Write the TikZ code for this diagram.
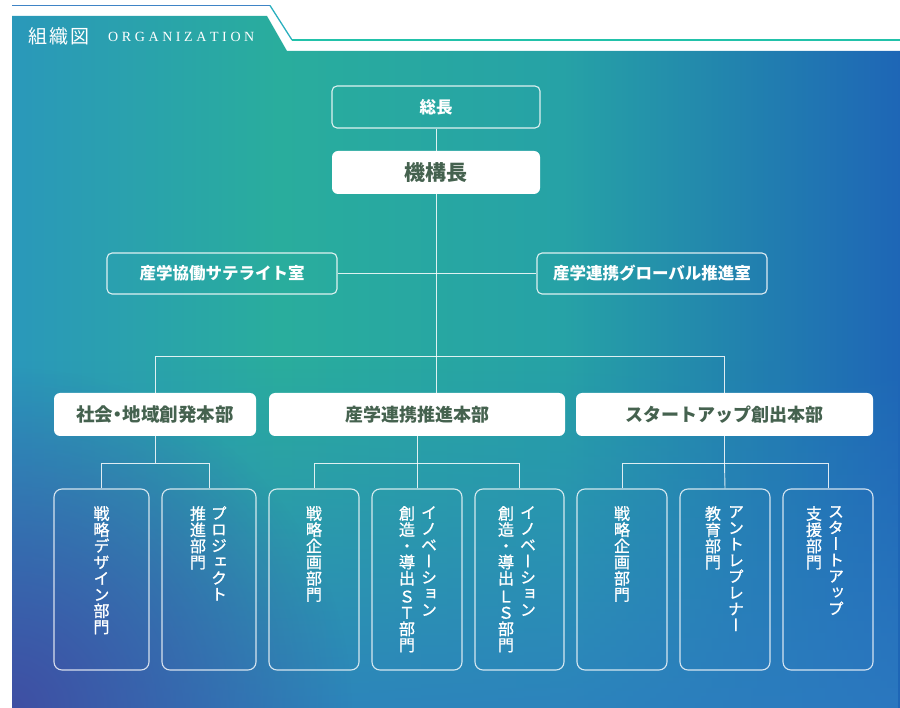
\documentclass[tikz,border=0pt]{standalone}
\usepackage{fontspec}
\usetikzlibrary{fadings}
\setmainfont{Liberation Serif}
\newfontfamily\jp{Noto Sans CJK JP}
\newfontfamily\jpv[RawFeature=+vert, FakeBold=1]{Noto Sans CJK JP}
\definecolor{bgL}{HTML}{2A98BA}
\definecolor{bgM}{HTML}{29AD9D}
\definecolor{bgMb}{HTML}{26A2A6}
\definecolor{bgR}{HTML}{1E66B6}
\definecolor{purp}{HTML}{3F4FA3}
\definecolor{lowblue}{HTML}{2E7CC2}
\definecolor{dgreen}{HTML}{45624F}
\definecolor{lineA}{HTML}{3F84C6}
\definecolor{lineB}{HTML}{2AAFBE}
\definecolor{lineC}{HTML}{22C2AA}
\pgfdeclarehorizontalshading{bgh}{100bp}{color(0bp)=(bgL); color(25bp)=(bgL); color(40bp)=(bgM); color(56bp)=(bgMb); color(75bp)=(bgR); color(100bp)=(bgR)}
\tikzfading[name=radfade, inner color=transparent!0, outer color=transparent!100]
\tikzfading[name=upfade, top color=transparent!100, bottom color=transparent!20]
\def\lsp{\kern3.6pt}
\begin{document}
\begin{tikzpicture}[x=1pt,y=-1pt,
  conn/.style={draw=white, draw opacity=0.85, line width=0.9pt},
  outbox/.style={draw=white, draw opacity=0.85, line width=1.1pt, rounded corners=5pt, inner sep=0, text=white, font=\jp\bfseries\fontsize{16.5}{18}\selectfont},
  solidbox/.style={fill=white, rounded corners=6pt, inner sep=0, text=dgreen, font=\jp\bfseries\fontsize{18}{20}\selectfont},
  subbox/.style={draw=white, draw opacity=0.8, line width=1.1pt, rounded corners=8pt, inner sep=0, minimum height=181pt},
  vcol/.style={anchor=north, inner sep=0, align=center, text=white, font=\jpv\fontsize{16}{16.2}\selectfont}]
\useasboundingbox (0,0) rectangle (900,708);
% background
\shade[shading=bgh] (12,16) -- (267,16) -- (287,51) -- (900,51) -- (900,708) -- (12,708) -- cycle;
\begin{scope}
\clip (12,16) -- (267,16) -- (287,51) -- (900,51) -- (900,708) -- (12,708) -- cycle;
\fill[lowblue, path fading=upfade] (12,360) rectangle (900,708);
\fill[purp, path fading=radfade] (12,708) circle [radius=340pt];
\end{scope}
% header lines
\draw[lineA, line width=1.3pt] (12,5.5) -- (270,5.5);
\draw[lineB, line width=1.3pt] (270,5.5) -- (292,40);
\draw[lineC, line width=1.3pt] (292,40) -- (900,40);
\node[text=white, font=\jp\fontsize{19}{20}\selectfont, anchor=west, inner sep=0] (ttl) at (28,36) {組\kern2pt 織\kern2pt 図};
\node[text=white, font=\fontsize{14}{14}\selectfont, anchor=west, inner sep=0] (org) at (108,36.5) {O\lsp R\lsp G\lsp A\lsp N\lsp I\lsp Z\lsp A\lsp T\lsp I\lsp O\lsp N};
% top nodes
\node[outbox, minimum width=208pt, minimum height=42pt] (sou) at (436,107) {総長};
\node[solidbox, minimum width=208pt, minimum height=43pt, font=\jp\bfseries\fontsize{21}{24}\selectfont] (kiko) at (436,172.5) {機構長};
\node[outbox, minimum width=230pt, minimum height=41pt] (sat) at (222,273.5) {産学協働サテライト室};
\node[outbox, minimum width=230pt, minimum height=41pt] (glo) at (652,273.5) {産学連携グローバル推進室};
% headquarters
\node[solidbox, minimum width=202pt, minimum height=43pt, font=\jp\bfseries\fontsize{18.5}{20}\selectfont] (h1) at (155,414.5) {社会\kern-4.5pt・\kern-4.5pt 地域創発本部};
\node[solidbox, minimum width=296pt, minimum height=43pt] (h2) at (417,414.5) {産学連携推進本部};
\node[solidbox, minimum width=297pt, minimum height=43pt] (h3) at (724.5,414.5) {スタートアップ創出本部};
% sub boxes
\node[subbox, minimum width=95pt] (s1) at (101.5,579.5) {};
\node[subbox, minimum width=94pt] (s2) at (209,579.5) {};
\node[subbox, minimum width=90pt] (s3) at (314,579.5) {};
\node[subbox, minimum width=90pt] (s4) at (417,579.5) {};
\node[subbox, minimum width=89pt] (s5) at (519.5,579.5) {};
\node[subbox, minimum width=90pt] (s6) at (622,579.5) {};
\node[subbox, minimum width=90pt] (s7) at (725,579.5) {};
\node[subbox, minimum width=90pt] (s8) at (828,579.5) {};
% connectors
\coordinate (bus) at (436,356);
\draw[conn] (sou.south) -- (kiko.north);
\draw[conn] (kiko.south) -- (kiko.south |- h2.north);
\draw[conn] (sat.east) -- (glo.west);
\draw[conn] (h1.north) -- (h1.north |- bus) -- (h3.north |- bus) -- (h3.north);
\coordinate (b1) at (155,463);
\draw[conn] (h1.south) -- (b1);
\draw[conn] (s1.north) -- (s1.north |- b1) -- (s2.north |- b1) -- (s2.north);
\draw[conn] (h2.south) -- (h2.south |- b1);
\draw[conn] (s3.north) -- (s3.north |- b1) -- (s5.north |- b1) -- (s5.north);
\draw[conn] (h2.south |- b1) -- (s4.north);
\draw[conn] (h3.south) -- (h3.south |- b1);
\draw[conn] (s6.north) -- (s6.north |- b1) -- (s8.north |- b1) -- (s8.north);
\draw[conn] (h3.south |- b1) -- (s7.north);
% vertical texts
\node[vcol] (t1) at (101.5,506) {戦\\略\\デ\\ザ\\イ\\ン\\部\\門};
\node[vcol] (t2a) at (219,506) {プ\\ロ\\ジ\\ェ\\ク\\ト};
\node[vcol] (t2b) at (198,506) {推\\進\\部\\門};
\node[vcol] (t3) at (314,506) {戦\\略\\企\\画\\部\\門};
\node[vcol] (t4a) at (429,506) {イ\\ノ\\ベ\\ー\\シ\\ョ\\ン};
\node[vcol] (t4b) at (407,506) {創\\造\\・\\導\\出\\[2pt]Ｓ\\Ｔ\\部\\門};
\node[vcol] (t5a) at (528,506) {イ\\ノ\\ベ\\ー\\シ\\ョ\\ン};
\node[vcol] (t5b) at (506,506) {創\\造\\・\\導\\出\\[2pt]Ｌ\\Ｓ\\部\\門};
\node[vcol] (t6) at (622,506) {戦\\略\\企\\画\\部\\門};
\node[vcol] (t7a) at (736,506) {ア\\ン\\ト\\レ\\プ\\レ\\ナ\\ー};
\node[vcol] (t7b) at (713,506) {教\\育\\部\\門};
\node[vcol] (t8a) at (836,506) {ス\\タ\\ー\\ト\\ア\\ッ\\プ};
\node[vcol] (t8b) at (814,506) {支\\援\\部\\門};
\end{tikzpicture}
\end{document}
